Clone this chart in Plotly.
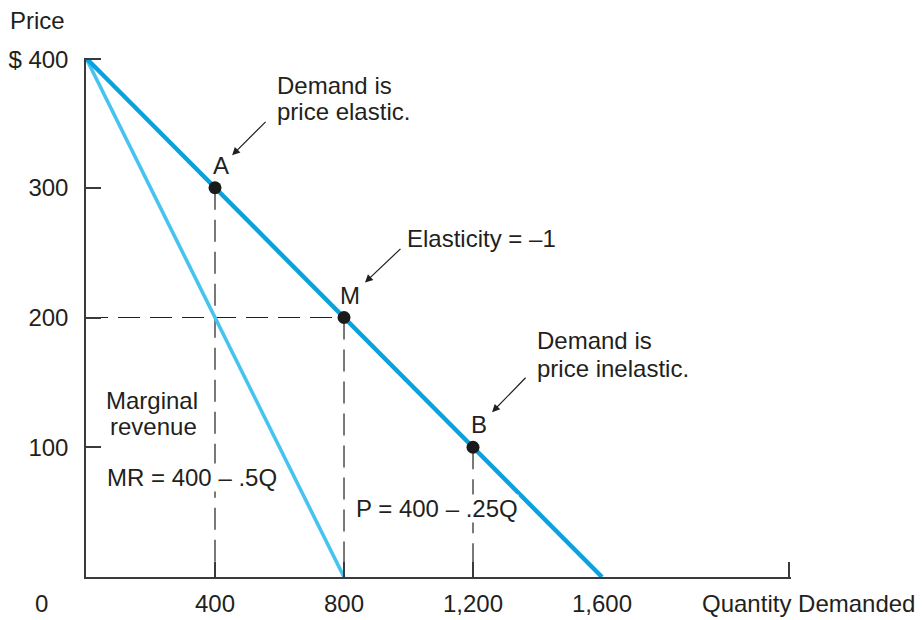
import plotly.graph_objects as go

# ---- data ----
demand_q = [0, 1600]
demand_p = [400, 0]
mr_q = [0, 800]
mr_p = [400, 0]
point_q = [400, 800, 1200]
point_p = [300, 200, 100]
point_labels = ["A", "M", "B"]
x_max = 2186
x_label_vals = [400, 800, 1200, 1600]
x_label_text = ["400", "800", "1,200", "1,600"]
x_tick_marks = [400, 800, 1200, 2181]
y_tickvals = [100, 200, 300, 399]
y_ticktext = ["100", "200", "300", "$ 400"]

FONT = "Liberation Sans, Arial, Helvetica, sans-serif"
TXT = "#231f20"
FS = 24

fig = go.Figure()

# dashed guide lines
dash = dict(color="#231f20", width=1.2, dash="22px,10px")
for q, p in zip(point_q, point_p):
    fig.add_trace(go.Scatter(x=[q, q], y=[p, 0], mode="lines", line=dash,
                             hoverinfo="skip", showlegend=False))
fig.add_trace(go.Scatter(x=[0, point_q[1]], y=[point_p[1], point_p[1]], mode="lines",
                         line=dash, hoverinfo="skip", showlegend=False))

# MR and demand lines
fig.add_trace(go.Scatter(x=mr_q, y=mr_p, mode="lines",
                         line=dict(color="#46c3ef", width=3.6), showlegend=False,
                         cliponaxis=False))
fig.add_trace(go.Scatter(x=demand_q, y=demand_p, mode="lines",
                         line=dict(color="#0aa2de", width=4.4), showlegend=False,
                         cliponaxis=False))

# points
fig.add_trace(go.Scatter(x=point_q, y=point_p, mode="markers",
                         marker=dict(color="#1a1a1a", size=13),
                         showlegend=False, cliponaxis=False))

# invisible trace to carry the label axis
fig.add_trace(go.Scatter(x=[0, x_max], y=[0, 0], xaxis="x2", mode="lines",
                         line=dict(width=0), hoverinfo="skip", showlegend=False))

def ann(text, x, y, xanchor="left", ref="x", bg=None, pad=None):
    d = dict(text=text, x=x, y=y, xref=ref, yref=("y" if ref == "x" else "paper"),
             xanchor=xanchor, yanchor="middle", showarrow=False,
             font=dict(family=FONT, size=FS, color=TXT))
    if bg:
        d["bgcolor"] = bg
        d["borderpad"] = 0
    if pad is not None:
        d["borderpad"] = pad
    return d

def arrow(x, y, ax, ay):
    return dict(text="", x=x, y=y, xref="x", yref="y", ax=ax, ay=ay,
                showarrow=True, arrowhead=2, arrowsize=1.3, arrowwidth=1.2,
                arrowcolor="#231f20")

annotations = [
    ann("Demand is", 586, 379),
    ann("price elastic.", 586, 359),
    arrow(453, 325, 35, -35),
    ann("Elasticity = \u20131", 989, 261),
    arrow(865, 227, 37, -35),
    ann("Demand is", 1392, 182),
    ann("price inelastic.", 1392, 161),
    arrow(1259, 127, 35, -36),
    ann("Marginal", 205, 136, "center"),
    ann("revenue", 208, 116, "center"),
    ann("MR = 400 \u2013 .5Q", 62, 77, bg="white"),
    ann("P = 400 \u2013 .25Q", 834, 53, bg="white"),
    ann("Price", -0.1092, 1.072, ref="paper", pad=0),
    ann("0", -0.0638, -0.0501, "center", ref="paper"),
    ann("Quantity Demanded", 0.871, -0.0501, ref="paper"),
]
# point letters
for q, p, lab in zip(point_q, point_p, point_labels):
    annotations.append(dict(text=lab, x=q, y=p, xref="x", yref="y",
                            xanchor="center", yanchor="bottom", xshift=6, yshift=7,
                            showarrow=False,
                            font=dict(family=FONT, size=FS, color=TXT)))

line_col = "#3a3a3a"
fig.update_layout(
    width=915, height=612,
    margin=dict(l=78, r=132, t=50, b=43, autoexpand=False),
    paper_bgcolor="white", plot_bgcolor="white",
    xaxis=dict(range=[0, x_max], tickmode="array", tickvals=x_tick_marks,
               showticklabels=False, showgrid=False, zeroline=False,
               showline=True, linecolor=line_col, linewidth=1.5,
               ticks="inside", ticklen=15, tickwidth=1.5, tickcolor=line_col),
    xaxis2=dict(range=[0, x_max], overlaying="x", anchor="y", side="bottom",
                tickmode="array", tickvals=x_label_vals, ticktext=x_label_text,
                ticks="", showgrid=False, zeroline=False, showline=False,
                ticklabelstandoff=10,
                tickfont=dict(family=FONT, size=FS, color=TXT)),
    yaxis=dict(range=[0, 400], tickmode="array", tickvals=y_tickvals,
               ticktext=y_ticktext, ticklabelstandoff=11,
               showgrid=False, zeroline=False, showline=True, linecolor=line_col,
               linewidth=1.5, ticks="inside", ticklen=15, tickwidth=1.5,
               tickcolor=line_col,
               tickfont=dict(family=FONT, size=FS, color=TXT)),
    annotations=annotations,
    showlegend=False,
)

fig.write_html("out.html")
